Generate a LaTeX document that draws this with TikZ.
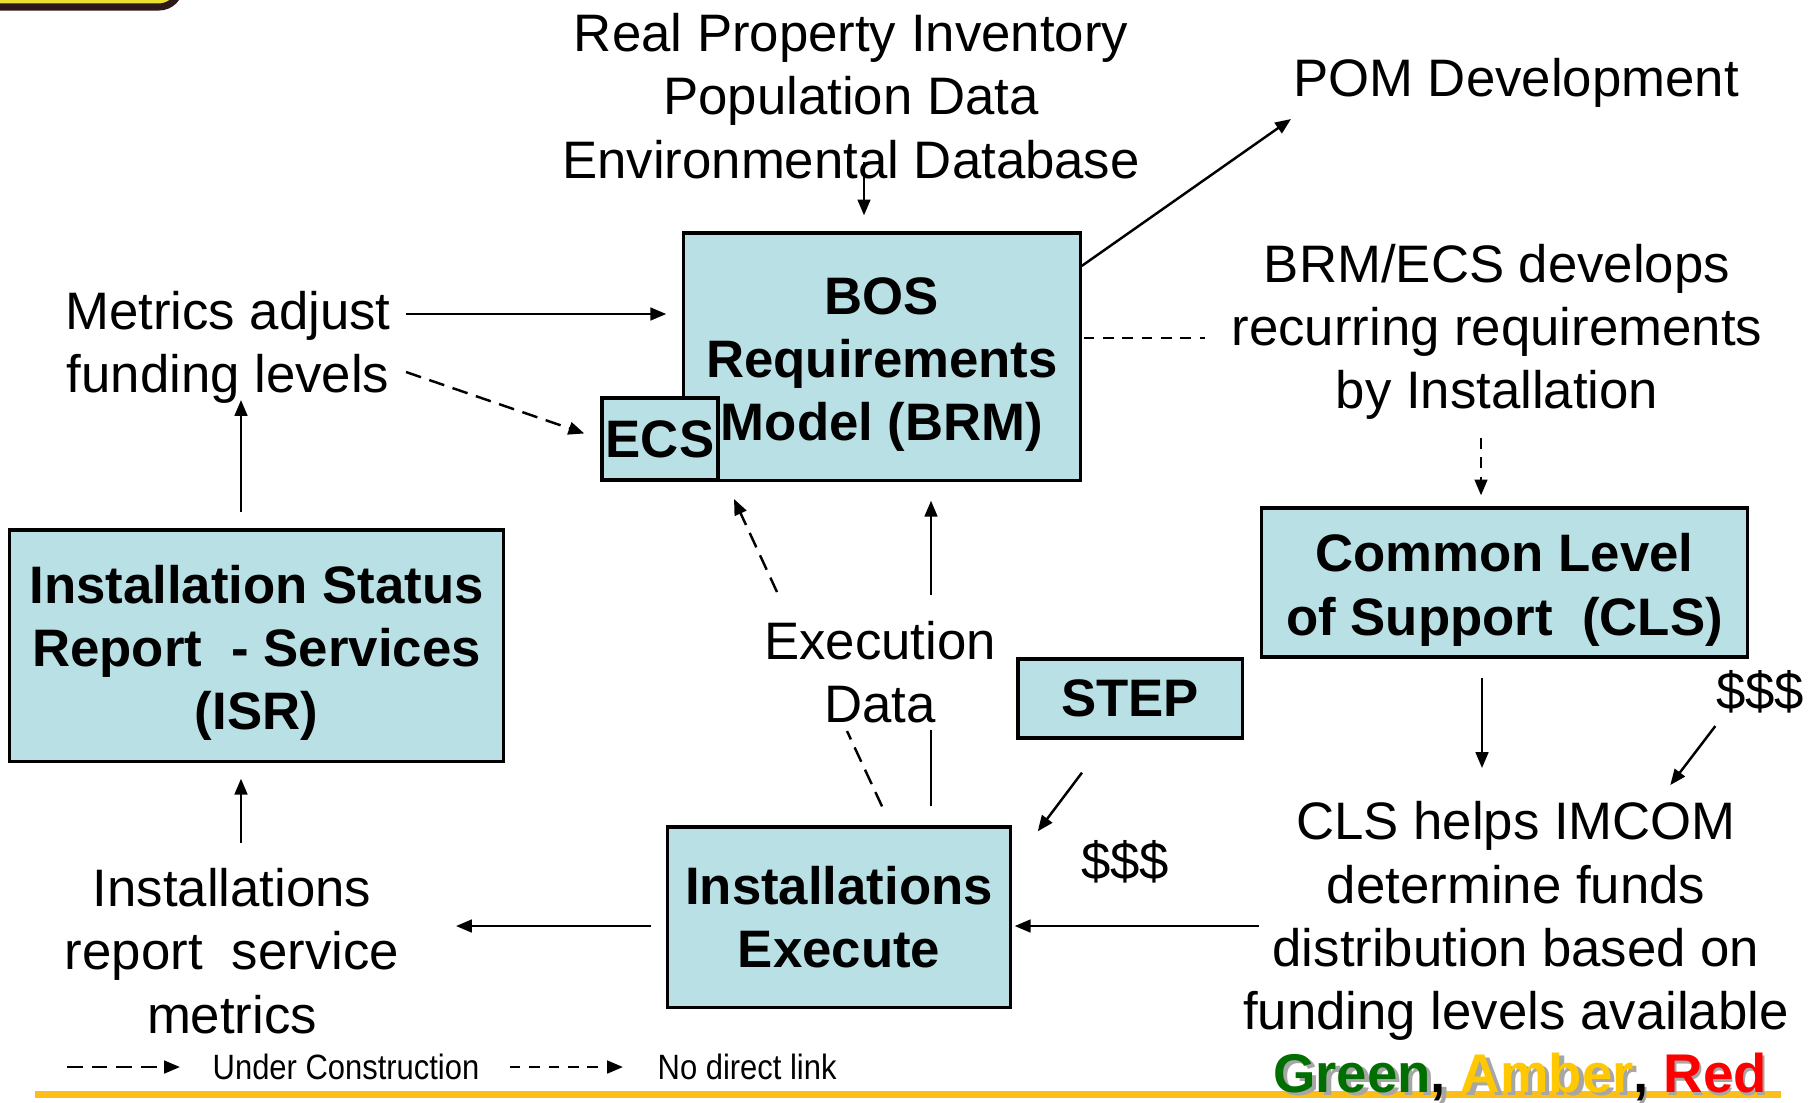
\documentclass[tikz,border=0pt]{standalone}
\usepackage{fontspec}
\setmainfont{Liberation Sans}
\newfontfamily\narrowfont[FakeStretch=0.88]{Liberation Sans}
\usepackage{tikz}
\usetikzlibrary{arrows.meta,positioning,calc}
\usepackage{xcolor}
\definecolor{boxAqua}{RGB}{185,224,228}
\definecolor{rankGreen}{RGB}{0,110,0}
\definecolor{rankAmber}{RGB}{255,200,0}
\definecolor{rankRed}{RGB}{255,0,0}
\definecolor{ruleGold}{RGB}{253,190,24}
\definecolor{badgeYellow}{RGB}{235,225,50}
\definecolor{badgeEdge}{RGB}{45,25,25}
\newcommand\tallline{\rule{0pt}{15pt}}

\tikzset{
  lbl/.style={font=\fontsize{15}{18}\selectfont, align=center, inner sep=0pt},
  blk/.style={draw, line width=0.9pt, fill=boxAqua, font=\fontsize{15}{18}\selectfont\bfseries, align=center, inner sep=0pt},
  tip/.style={-{Triangle[length=4.5pt,width=3.6pt]}},
  arr/.style={line width=0.7pt, tip},
  ucon/.style={line width=0.7pt, dash pattern=on 4.5pt off 2.5pt},
  nolink/.style={line width=0.7pt, dash pattern=on 3pt off 2.5pt},
}

\begin{document}
\begin{tikzpicture}[x=0.01cm, y=-0.01cm]
\useasboundingbox (0,0) rectangle (1819,1102);
% corner badge
\draw[badgeEdge, fill=badgeYellow, line width=2pt, rounded corners=6pt] (-30,-60) rectangle (180,7);

% boxes
\node[blk, minimum width=3.96cm, minimum height=2.47cm] (brm) at (882,356.5) {\tallline BOS\\Requirements\\Model (BRM)};
\node[blk, minimum width=1.16cm, minimum height=0.82cm] (ecs) at (660,439) {ECS};
\node[blk, minimum width=4.85cm, minimum height=1.49cm] (cls) at (1504.5,582.5) {\tallline Common Level\\of Support~ (CLS)};
\node[blk, minimum width=3.42cm, minimum height=1.80cm] (inst) at (839,917) {Installations\\Execute};
\node[blk, minimum width=2.24cm, minimum height=0.79cm] (step) at (1130,698.5) {STEP};
\node[blk, minimum width=4.93cm, minimum height=2.31cm] (isr) at (256.5,645.5) {\tallline Installation Status\\Report~ - Services\\(ISR)};

% labels
\node[lbl] (props) at (851,96) {Real Property Inventory\\Population Data\\Environmental Database};
\node[lbl] (pom) at (1516,83) {POM Development};
\node[lbl] (brmecs) at (1497,332) {BRM/ECS develops\\recurring requirements\\by Installation};
\node[lbl] (clshelps) at (1516,921) {CLS helps IMCOM\\determine funds\\distribution based on\\funding levels available};
\node[lbl] (metrics) at (228,347) {Metrics adjust\\funding levels};
\node[lbl] (report) at (232,951) {Installations\\report~ service\\metrics};
\node[lbl] (exec) at (880,672) {Execution\\Data};
\node[lbl] (dollarL) at (1125,862) {\$\$\$};
\node[lbl] (dollarR) at (1760,692) {\$\$\$};

% free ends
\coordinate (propsdown) at (864,162);
\coordinate (pomin) at (1291,119);
\coordinate (brmecsdown) at (1481,438);
\coordinate (clsout) at (1482,768);
\coordinate (fundsout) at (1259,926);
\coordinate (reportin) at (456,926);
\coordinate (reportup) at (241,843);
\coordinate (metricsin) at (241,400);
\coordinate (metricsout) at (406,314);
\coordinate (metricsdash) at (406,372);
\coordinate (execsolidlo) at (931,730);
\coordinate (execsolidhi) at (931,595);
\coordinate (execdashlo) at (847,731);
\coordinate (execdashhi) at (777,592);
\coordinate (ecsup) at (734,499);

% connectors
\draw[arr, shorten >=0.16cm] (propsdown) -- (propsdown |- brm.north);
\draw[arr] ([yshift=0.905cm]brm.east) -- (pomin);
\draw[nolink] ([yshift=0.185cm,xshift=0.02cm]brm.east) -- ++(121,0);
\draw[nolink, tip, shorten >=0.11cm] (brmecsdown) -- (brmecsdown |- cls.north);
\draw[arr, shorten <=0.19cm] (clsout |- cls.south) -- (clsout);
\draw[arr] ([yshift=-0.12cm]dollarR.south west) -- ++(-45,59);
\draw[arr, shorten >=0.03cm] (fundsout) -- (fundsout -| inst.east);
\draw[arr] ([xshift=-0.48cm,yshift=-0.33cm]step.south) -- ([xshift=0.26cm,yshift=-0.06cm]inst.north east);
\draw[arr, shorten <=0.15cm] (fundsout -| inst.west) -- (reportin);
\draw[arr, shorten >=0.16cm] (reportup) -- (reportup |- isr.south);
\draw[arr, shorten <=0.16cm] (reportup |- isr.north) -- (metricsin);
\draw[arr, shorten >=0.16cm] (metricsout) -- (metricsout -| brm.west);
\draw[ucon, tip, shorten >=0.17cm] (metricsdash) -- (ecs.west);
\draw[line width=0.7pt, shorten <=0.19cm] (execsolidlo |- inst.north) -- (execsolidlo);
\draw[arr, shorten >=0.19cm] (execsolidhi) -- (execsolidhi |- brm.south);
\draw[ucon] ([xshift=0.43cm,yshift=0.19cm]inst.north) -- (execdashlo);
\draw[ucon, tip] (execdashhi) -- (ecsup);

% legend and rule
\draw[ruleGold, line width=2pt] (35,1094) -- (1781,1094);
\node[font=\narrowfont\fontsize{10}{12}\selectfont, anchor=west, inner sep=0pt] (leguc) at (212,1067) {Under Construction};
\node[font=\narrowfont\fontsize{10}{12}\selectfont, anchor=west, inner sep=0pt] (legnl) at (657,1067) {No direct link};
\draw[ucon, tip] ([xshift=-1.45cm]leguc.west) -- ([xshift=-0.32cm]leguc.west);
\draw[nolink, tip] ([xshift=-1.47cm]legnl.west) -- ([xshift=-0.34cm]legnl.west);
\node[lbl, font=\fontsize{15.5}{18}\selectfont\bfseries, text=black!35] (garshadow) at (1523,1080) {Green, Amber, Red};
\node[lbl, font=\fontsize{15.5}{18}\selectfont\bfseries] (gar) at (1520,1077) {\textcolor{rankGreen}{Green}, \textcolor{rankAmber}{Amber}, \textcolor{rankRed}{Red}};
\end{tikzpicture}
\end{document}
